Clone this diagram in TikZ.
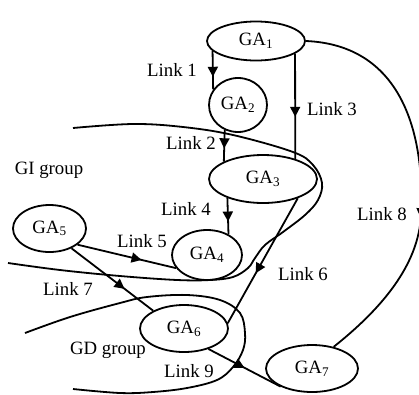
\documentclass[tikz,border=0pt]{standalone}
\usepackage{fontspec}
\setmainfont{Liberation Serif}
\usetikzlibrary{shapes.geometric,arrows.meta,decorations.markings}
\begin{document}
\begin{tikzpicture}[x=1pt,y=-1pt,
  every node/.style={font=\fontsize{18.8}{20}\selectfont},
  ga/.style={ellipse, draw, line width=1.8pt, inner sep=0pt},
  link/.style={line width=1.8pt},
  midarrow/.style={postaction={decorate}, decoration={markings, mark=at position #1 with {\arrow{Triangle[length=10pt,width=10pt]}}}},
  lbl/.style={anchor=base, inner sep=0pt},
  boundary/.style={line width=1.8pt}
]
\fill[white] (0,0) rectangle (419,394);
\useasboundingbox (0,0) rectangle (419,394);

% group boundaries
\draw[boundary] plot[smooth, tension=0.6] coordinates {(73,128) (133,124) (183,127) (233,135) (293,152) (313,165) (322,183) (318,200) (305,215) (283,232) (265,245) (255,258) (248,268) (233,277) (210,280) (177,280) (120,276) (60,270) (8,263)};
\draw[boundary] plot[smooth, tension=0.6] coordinates {(25,333) (70,317) (120,303) (147,297) (187,295) (220,300) (240,313) (245,333) (243,350) (233,367) (217,380) (187,388) (153,392) (120,393) (73,389)};

% nodes
\node[ga, minimum width=98pt, minimum height=39pt] (GA1) at (256,41) {GA\textsubscript{1}};
\node[ga, minimum width=58pt, minimum height=54pt] (GA2) at (238,105) {GA\textsubscript{2}};
\node[ga, minimum width=108pt, minimum height=48pt] (GA3) at (263,179) {GA\textsubscript{3}};
\node[ga, minimum width=70pt, minimum height=50pt] (GA4) at (207,255) {GA\textsubscript{4}};
\node[ga, minimum width=73pt, minimum height=47pt] (GA5) at (49.5,228.5) {GA\textsubscript{5}};
\node[ga, minimum width=88pt, minimum height=47pt] (GA6) at (184,328.5) {GA\textsubscript{6}};
\node[ga, minimum width=92pt, minimum height=47pt] (GA7) at (312,368.5) {GA\textsubscript{7}};

% links
\draw[link, midarrow=0.67] (GA1.193) -- (GA2.148);
\draw[link, midarrow=0.6] (GA1.342) -- (GA3.32);
\draw[link, midarrow=0.58] (GA2.242) -- (GA3.156);
\draw[link, midarrow=0.65] (GA3.208) -- (GA4.44);
\draw[link, midarrow=0.65] (GA5.330) -- (GA4.203);
\draw[link, midarrow=0.6] (GA3.331) -- (GA6.7);
\draw[link, midarrow=0.65] (GA5.318) -- (GA6.150);
\draw[link, midarrow=0.6] (GA1.east) .. controls (400,45) and (425,130) .. (421,215) .. controls (418.6,266) and (380,310) .. (GA7.45);
\draw[link, midarrow=0.5] (GA6.320) -- (GA7.210);

% labels
\node[lbl] (l1) at (172,76) {Link 1};
\node[lbl] (l2) at (191,149.5) {Link 2};
\node[lbl] (l3) at (332,115) {Link 3};
\node[lbl] (l4) at (186,215.5) {Link 4};
\node[lbl] (l5) at (142,247) {Link 5};
\node[lbl] (l6) at (303,280.5) {Link 6};
\node[lbl] (l7) at (68,295.5) {Link 7};
\node[lbl] (l8) at (382,220.5) {Link 8};
\node[lbl] (l9) at (189,377) {Link 9};
\node[lbl] (gi) at (49,174) {GI group};
\node[lbl] (gd) at (108,354) {GD group};
\end{tikzpicture}
\end{document}
